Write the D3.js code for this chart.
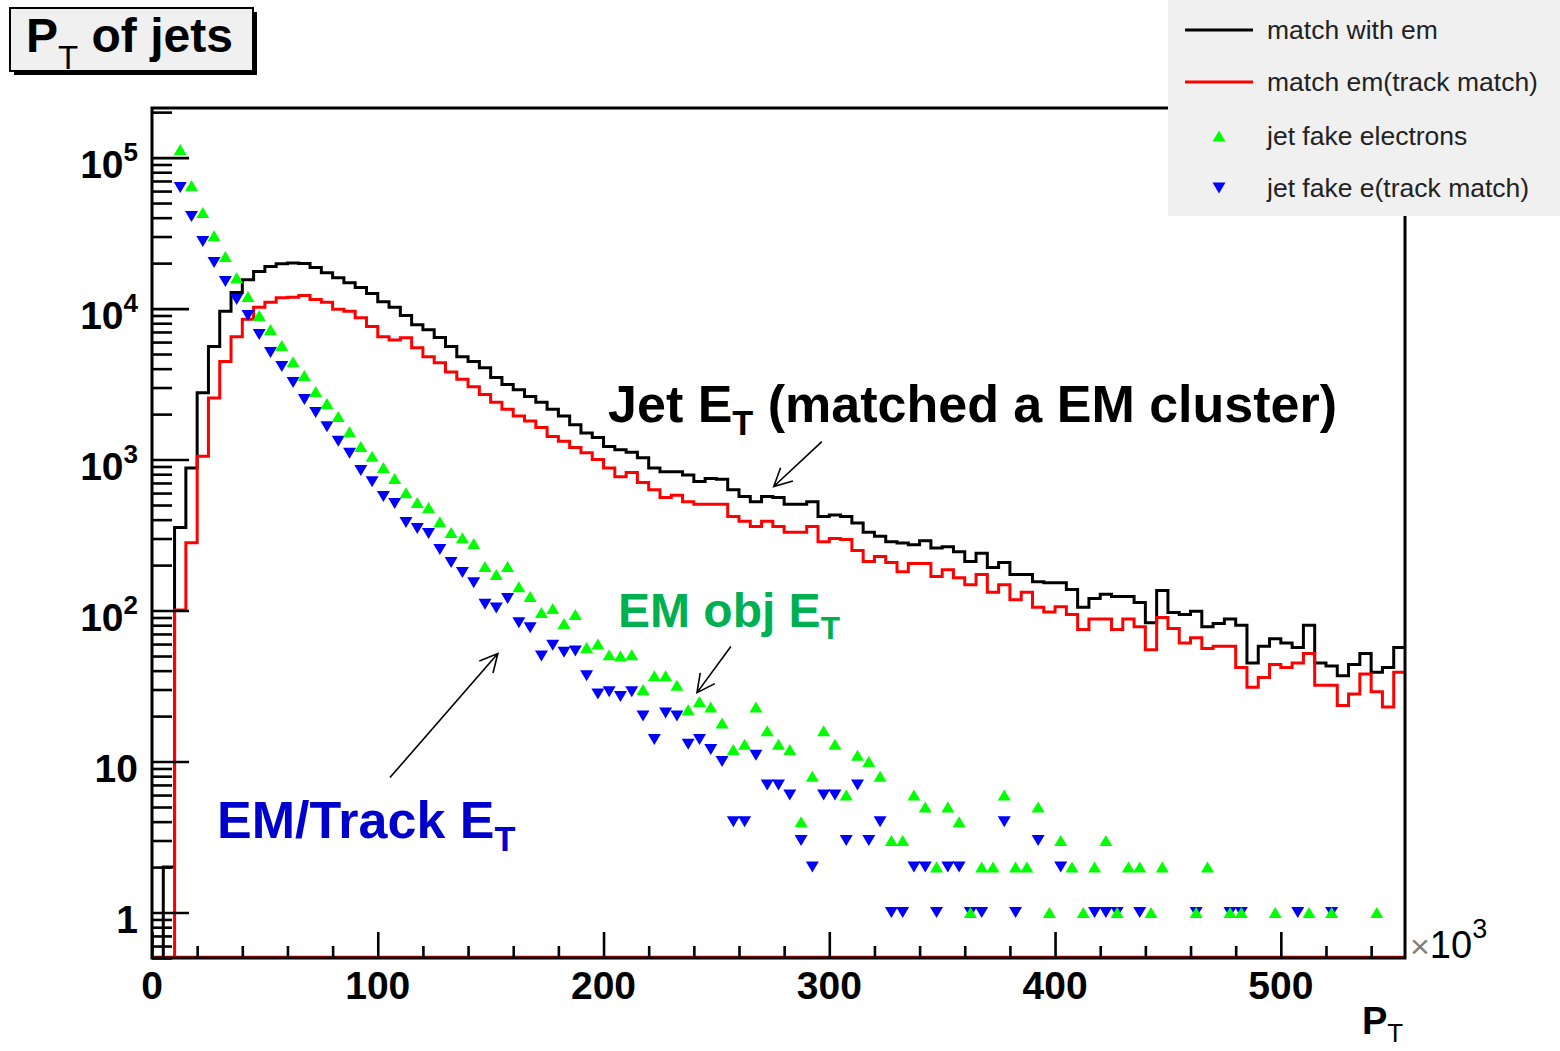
<!DOCTYPE html>
<html>
<head>
<meta charset="utf-8">
<script src="https://cdn.jsdelivr.net/npm/d3@7.9.0/dist/d3.min.js"></script>
<style>
  body { margin: 0; background: #fff; }
  svg { display: block; font-family: "Liberation Sans", Arial, Helvetica, sans-serif; }
</style>
</head>
<body>
<svg id="chart" width="1560" height="1051"></svg>
<script>
// P_T bins (x10^3): 111 bins of width 5 from 0 to 555
const binWidth = 5;
const binLow = d3.range(0, 555, binWidth);

// black histogram: match with em
const matchWithEm = [
  0, 2, 355, 880, 2770, 5600, 9600, 12800, 15500, 17600,
  19000, 19800, 20000, 19900, 18700, 17300, 16000, 14800, 13800, 12600,
  11100, 10200, 9000, 7800, 7240, 6430, 5600, 4800, 4460, 4060,
  3490, 3140, 2900, 2620, 2400, 2150, 1940, 1700, 1500, 1400,
  1220, 1160, 1120, 1030, 880, 830, 830, 790, 715, 750,
  740, 630, 570, 525, 570, 560, 505, 505, 525, 420,
  430, 420, 380, 330, 310, 286, 280, 273, 290, 260,
  265, 245, 211, 240, 193, 208, 173, 173, 155, 153,
  153, 138, 105, 120, 128, 124, 124, 113, 83, 136,
  97, 94, 99, 78, 82, 88, 80, 45, 58, 65,
  61, 57, 80, 45, 43, 37, 44, 52, 39, 42,
  57
];

// red histogram: match em (track match)
const matchEmTrack = [
  0, 0, 101, 281, 1050, 2560, 4460, 6500, 8500, 10200,
  11000, 11800, 11900, 12200, 11500, 11000, 9900, 9600, 8700, 7600,
  6500, 6200, 6400, 5500, 4800, 4370, 3800, 3400, 3040, 2700,
  2400, 2150, 1940, 1800, 1630, 1420, 1320, 1200, 1110, 1000,
  880, 770, 820, 705, 630, 560, 580, 525, 505, 505,
  505, 420, 390, 360, 390, 360, 330, 330, 360, 286,
  300, 295, 250, 211, 228, 208, 181, 205, 205, 168,
  186, 165, 148, 173, 132, 148, 118, 132, 105, 98,
  106, 94, 75, 88, 88, 75, 88, 78, 55, 90,
  76, 61, 66, 56, 58, 58, 42, 31, 36, 44,
  42, 45, 52, 32, 32, 23.5, 28, 38, 29, 23,
  39
];

// green up-triangles: jet fake electrons (null = empty bin)
const fakeElectrons = [
  null, null, 113000, 65300, 43300, 30400, 22100, 16000, 12000, 9000,
  7270, 5690, 4450, 3600, 2820, 2350, 1930, 1530, 1220, 1050,
  885, 748, 604, 519, 481, 388, 329, 304, 278, 196,
  173, 196, 144, 124, 97, 103, 82, 94, 57, 60,
  51, 50, 51, 30, 37, 37, 32, 22, 25, 23,
  18, 12, 13, 23, 16, 13, 12, 4, 8, 16,
  13, 6, 11, 10, 8, 3, 3, 6, 5, 2,
  5, 4, 1, 2, 2, 6, 2, 2, 5, 1,
  3, 2, 1, 2, 3, 1, 2, 2, 1, 2,
  null, null, 1, 2, null, 1, 1, null, null, 1,
  null, null, 1, null, 1, null, null, null, 1, null,
  null
];

// blue down-triangles: jet fake e (track match)
const fakeETrack = [
  null, null, 63300, 40700, 27800, 20200, 15100, 11500, 9000, 6730,
  5110, 4130, 3240, 2500, 2050, 1650, 1320, 1100, 845, 714,
  569, 511, 383, 349, 324, 254, 208, 179, 153, 110,
  104, 120, 83, 77, 50, 59, 53, 54, 37, 28,
  29, 27, 29, 20, 14, 21, 20, 13, 14, 12,
  10, 4, 4, 11, 7, 7, 6, 3, 2, 6,
  6, 3, 7, 3, 4, 1, 1, 2, 2, 1,
  2, 2, 1, 1, null, 4, 1, null, 3, null,
  2, null, null, 1, 1, 1, null, 1, null, null,
  null, null, 1, null, null, 1, 1, null, null, null,
  null, 1, null, null, 1, null, null, null, null, null,
  null
];

const yMajor = [1, 10, 100, 1000, 10000, 100000];
const yMajorExp = [null, null, 2, 3, 4, 5];
const xMajor = [0, 100, 200, 300, 400, 500];

const legendLabels = ["match with em", "match em(track match)", "jet fake electrons", "jet fake e(track match)"];

const svg = d3.select("#chart");
const W = 1560, H = 1051;
const plot = { left: 152, right: 1405, top: 108, bottom: 958 };

const x = d3.scaleLinear().domain([0, 555]).range([plot.left, plot.right]);
const y = d3.scaleLog().domain([0.5, 2.13e5]).range([plot.bottom, plot.top]);

svg.append("rect").attr("width", W).attr("height", H).attr("fill", "#fff");

svg.append("defs").append("clipPath").attr("id", "clip")
  .append("rect")
  .attr("x", plot.left).attr("y", plot.top)
  .attr("width", plot.right - plot.left).attr("height", plot.bottom - plot.top);

const g = svg.append("g").attr("clip-path", "url(#clip)");

// faint red baseline along the x axis
g.append("line")
  .attr("x1", plot.left).attr("x2", plot.right)
  .attr("y1", plot.bottom - 1.5).attr("y2", plot.bottom - 1.5)
  .attr("stroke", "#ff0000").attr("stroke-width", 1.5);

function histPoints(values) {
  const pts = [[x(binLow[0]), plot.bottom]];
  values.forEach((v, i) => {
    const yy = v > 0 ? y(v) : plot.bottom;
    pts.push([x(binLow[i]), yy], [x(binLow[i] + binWidth), yy]);
  });
  return pts;
}

const line = d3.line();
g.append("path").attr("d", line(histPoints(matchWithEm)))
  .attr("fill", "none").attr("stroke", "#000").attr("stroke-width", 3);
g.append("path").attr("d", line(histPoints(matchEmTrack)))
  .attr("fill", "none").attr("stroke", "#ff0000").attr("stroke-width", 3);

const triUp = "M0,-5.5L6.5,5.5L-6.5,5.5Z";
const triDown = "M-6.5,-5.5L6.5,-5.5L0,5.5Z";

function drawMarkers(values, shape, color) {
  const data = values.map((v, i) => ({ c: binLow[i] + binWidth / 2, v })).filter(d => d.v != null && d.v > 0);
  g.selectAll(null).data(data).enter().append("path")
    .attr("d", shape)
    .attr("transform", d => `translate(${x(d.c)},${y(d.v)})`)
    .attr("fill", color);
}
drawMarkers(fakeETrack, triDown, "#0000ff");
drawMarkers(fakeElectrons, triUp, "#00ff00");

// axes (ticks drawn inside the frame, ROOT style)
const yMinor = [];
for (let e = -1; e <= 5; e++) {
  for (let m = 2; m <= 9; m++) {
    const v = m * Math.pow(10, e);
    if (v >= 0.5 && v <= 2.13e5) yMinor.push(v);
  }
}
const yAxisMajor = svg.append("g").attr("transform", `translate(${plot.left},0)`)
  .call(d3.axisRight(y).tickValues(yMajor).tickSize(37).tickFormat(""));
const yAxisMinor = svg.append("g").attr("transform", `translate(${plot.left},0)`)
  .call(d3.axisRight(y).tickValues(yMinor).tickSize(20).tickFormat(""));

const xMinor = d3.range(20, 555, 20).filter(v => v % 100 !== 0);
const xAxisMajor = svg.append("g").attr("transform", `translate(0,${plot.bottom})`)
  .call(d3.axisTop(x).tickValues(xMajor).tickSize(26).tickFormat(""));
const xAxisMinor = svg.append("g").attr("transform", `translate(0,${plot.bottom})`)
  .call(d3.axisTop(x).tickValues(xMinor).tickSize(12).tickFormat(""));

[yAxisMajor, yAxisMinor, xAxisMajor, xAxisMinor].forEach(a => {
  a.select(".domain").remove();
  a.selectAll("line").attr("stroke", "#000").attr("stroke-width", 2.6);
});

// frame
svg.append("rect")
  .attr("x", plot.left).attr("y", plot.top)
  .attr("width", plot.right - plot.left).attr("height", plot.bottom - plot.top)
  .attr("fill", "none").attr("stroke", "#000").attr("stroke-width", 3);

// y tick labels
yMajor.forEach((v, i) => {
  const t = svg.append("text")
    .attr("x", 138).attr("y", y(v) + 20)
    .attr("text-anchor", "end")
    .attr("font-size", 39).attr("font-weight", "bold").attr("fill", "#000");
  if (yMajorExp[i] == null) {
    t.text(String(v));
  } else {
    t.append("tspan").text("10");
    t.append("tspan").attr("dy", -17).attr("font-size", 26).text(String(yMajorExp[i]));
  }
});

// x tick labels
xMajor.forEach(v => {
  svg.append("text")
    .attr("x", x(v)).attr("y", 999)
    .attr("text-anchor", "middle")
    .attr("font-size", 39).attr("font-weight", "bold").attr("fill", "#000")
    .text(String(v));
});

// x10^3 multiplier
const mult = svg.append("text").attr("x", 1410).attr("y", 958).attr("font-size", 38).attr("fill", "#000");
mult.append("tspan").attr("fill", "#808080").attr("font-size", 34).text("\u00d7");
mult.append("tspan").text("10");
mult.append("tspan").attr("dy", -20).attr("font-size", 27).text("3");

// x axis title
const xt = svg.append("text").attr("x", 1362).attr("y", 1034).attr("font-size", 38).attr("font-weight", "bold");
xt.append("tspan").text("P");
xt.append("tspan").attr("dy", 8).attr("font-size", 26).attr("font-weight", "normal").text("T");

// title box
svg.append("rect").attr("x", 14).attr("y", 12).attr("width", 243).attr("height", 63).attr("fill", "#000");
svg.append("rect").attr("x", 10).attr("y", 8).attr("width", 243).attr("height", 63)
  .attr("fill", "#f0f0f0").attr("stroke", "#000").attr("stroke-width", 2);
const tt = svg.append("text").attr("x", 26).attr("y", 52).attr("font-size", 48).attr("font-weight", "bold");
tt.append("tspan").text("P");
tt.append("tspan").attr("dy", 17).attr("font-size", 33).attr("font-weight", "normal").text("T");
tt.append("tspan").attr("dy", -17).text(" of jets");

// legend
svg.append("rect").attr("x", 1168).attr("y", 0).attr("width", 392).attr("height", 216).attr("fill", "#f0f0f0");
const legendY = [30, 82, 136, 188];
legendY.forEach((ly, i) => {
  if (i < 2) {
    svg.append("line").attr("x1", 1185).attr("x2", 1253).attr("y1", ly).attr("y2", ly)
      .attr("stroke", i === 0 ? "#000" : "#ff0000").attr("stroke-width", 3);
  } else {
    svg.append("path").attr("d", i === 2 ? triUp : triDown)
      .attr("transform", `translate(1219,${ly})`)
      .attr("fill", i === 2 ? "#00ff00" : "#0000ff");
  }
  svg.append("text").attr("x", 1267).attr("y", ly + 9)
    .attr("font-size", 26.5).attr("fill", "#222").text(legendLabels[i]);
});

// annotations (positions in data coordinates)
function annot(px, py, size, color, main, sub, rest) {
  const t = svg.append("text").attr("x", x(px)).attr("y", y(py))
    .attr("font-size", size).attr("font-weight", "bold").attr("fill", color);
  t.append("tspan").text(main);
  t.append("tspan").attr("dy", size * 0.25).attr("font-size", size * 0.66).text(sub);
  if (rest) t.append("tspan").attr("dy", -size * 0.25).text(rest);
}
annot(202.0, 1780, 52, "#000", "Jet E", "T", " (matched a EM cluster)");
annot(206.4, 78, 48, "#00b050", "EM obj E", "T", null);
annot(28.8, 3.1, 52, "#0000cc", "EM/Track E", "T", null);

function arrow(x0, y0, x1, y1) {
  const ax = x(x0), ay = y(y0), bx = x(x1), by = y(y1);
  const ang = Math.atan2(ay - by, ax - bx);
  const L = 20, spread = 0.47;
  const p = d3.path();
  p.moveTo(ax, ay); p.lineTo(bx, by);
  p.moveTo(bx + L * Math.cos(ang - spread), by + L * Math.sin(ang - spread));
  p.lineTo(bx, by);
  p.lineTo(bx + L * Math.cos(ang + spread), by + L * Math.sin(ang + spread));
  svg.append("path").attr("d", p.toString()).attr("fill", "none")
    .attr("stroke", "#000").attr("stroke-width", 1.6);
}
arrow(296.7, 1316, 275.4, 663);
arrow(256.4, 57.8, 241.4, 28.6);
arrow(105.4, 7.83, 153.2, 51.9);
</script>
</body>
</html>
